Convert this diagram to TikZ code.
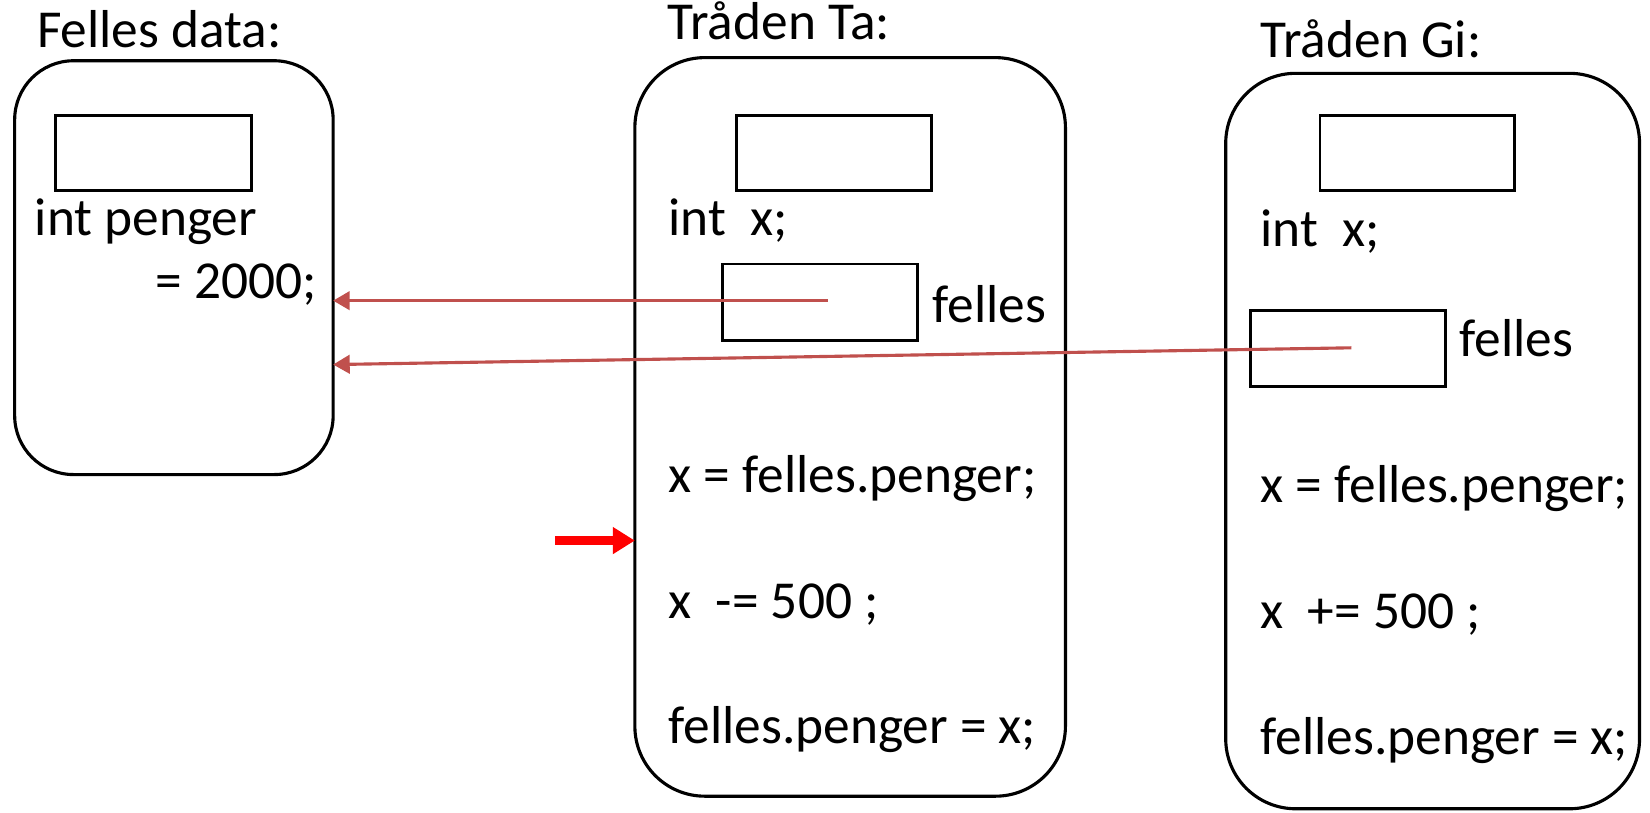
\documentclass[tikz,border=0pt]{standalone}
\usepackage{fontspec}
\setmainfont{Carlito}
\usetikzlibrary{arrows.meta}
\definecolor{pekerrod}{RGB}{192,80,77}
\begin{document}
\begin{tikzpicture}[x=0.02cm,y=-0.02cm,
    tekst/.style={anchor=base west, inner sep=0pt, font=\fontsize{29}{33}\selectfont},
    ramme/.style={draw, line width=1.7pt, rounded corners=32pt},
    boks/.style={draw, line width=1.6pt},
    peker/.style={draw=pekerrod, line width=1.7pt, -{Triangle[length=9pt,width=10pt]}},
    markor/.style={draw=red, line width=4.8pt, -{Triangle[length=12pt,width=14pt]}}]
    \useasboundingbox (0,0) rectangle (1575,776);

    % Felles data
    \node[tekst] (tfelles) at (35,45) {Felles data:};
    \draw[ramme] (14,58) rectangle (318,453);
    \draw[boks] (53,110) rectangle (240,182);
    \node[tekst] (penger) at (33,225) {int penger};
    \node[tekst] (verdi) at (148,285) {= 2000;};
    \coordinate (inn1) at (318,287);
    \coordinate (inn2) at (318,348);

    % Traaden Ta
    \node[tekst] (tta) at (637,38) {Tråden Ta:};
    \draw[ramme, rounded corners=38pt] (606,55) rectangle (1017,760);
    \draw[boks] (703,110) rectangle (889,182);
    \node[tekst] (xta) at (638,225) {int~~x;};
    \draw[boks] (690,252) rectangle (876,325);
    \node[tekst] (fta) at (890,308) {felles};
    \coordinate (ut1) at (790,287);
    \node[tekst] (lesta) at (638,470) {x = felles.penger;};
    \node[tekst] (regnta) at (638,590) {x~~-= 500 ;};
    \node[tekst] (skrivta) at (638,710) {felles.penger = x;};

    % Traaden Gi
    \node[tekst] (tgi) at (1203,55) {Tråden Gi:};
    \draw[ramme, rounded corners=38pt] (1170,70) rectangle (1565,772);
    \draw[boks] (1260,110) rectangle (1446,182);
    \node[tekst] (xgi) at (1203,235) {int~~x;};
    \draw[boks] (1194,296) rectangle (1380,369);
    \node[tekst] (fgi) at (1393,340) {felles};
    \coordinate (ut2) at (1290,332);
    \node[tekst] (lesgi) at (1203,480) {x = felles.penger;};
    \node[tekst] (regngi) at (1203,600) {x~~+= 500 ;};
    \node[tekst] (skrivgi) at (1203,720) {felles.penger = x;};

    % pekere
    \draw[peker] (ut1) -- (inn1);
    \draw[peker] (ut2) -- (inn2);
    \coordinate (mstart) at (530,516);
    \coordinate (mslutt) at (606,516);
    \draw[markor] (mstart) -- (mslutt);
\end{tikzpicture}
\end{document}
